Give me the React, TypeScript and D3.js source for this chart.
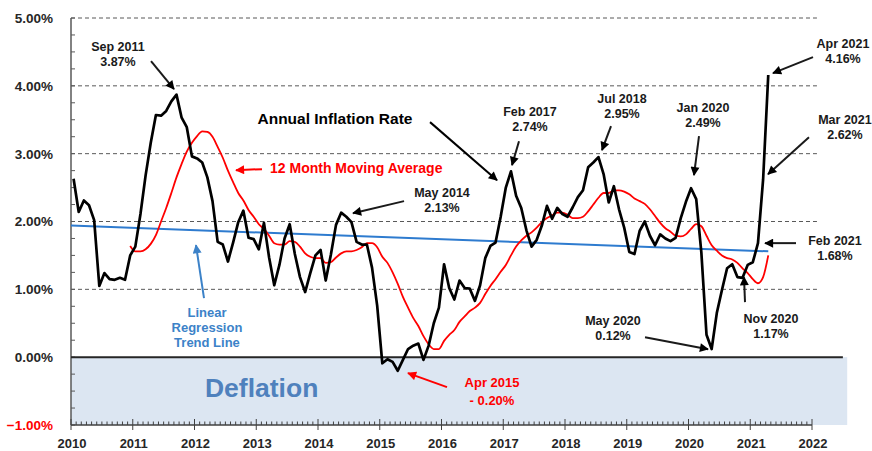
import React, { useEffect, useRef } from "react";
import * as d3 from "d3";

// monthly annual inflation rate, Jan 2010 .. Apr 2021
const rate2010 = [2.63, 2.14, 2.31, 2.24, 2.02, 1.05, 1.24, 1.15, 1.14, 1.17, 1.14, 1.5];
const rate2011 = [1.63, 2.11, 2.68, 3.16, 3.57, 3.56, 3.63, 3.77, 3.87, 3.53, 3.39, 2.96];
const rate2012 = [2.93, 2.87, 2.65, 2.3, 1.7, 1.66, 1.41, 1.69, 1.99, 2.16, 1.76, 1.74];
const rate2013 = [1.59, 1.98, 1.47, 1.06, 1.36, 1.75, 1.96, 1.52, 1.18, 0.96, 1.24, 1.5];
const rate2014 = [1.58, 1.13, 1.51, 1.95, 2.13, 2.07, 1.99, 1.7, 1.66, 1.66, 1.32, 0.76];
const rate2015 = [-0.09, -0.03, -0.07, -0.2, -0.04, 0.12, 0.17, 0.2, -0.04, 0.17, 0.5, 0.73];
const rate2016 = [1.37, 1.02, 0.85, 1.13, 1.02, 1.01, 0.83, 1.06, 1.46, 1.64, 1.69, 2.07];
const rate2017 = [2.5, 2.74, 2.38, 2.2, 1.87, 1.63, 1.73, 1.94, 2.23, 2.04, 2.2, 2.11];
const rate2018 = [2.07, 2.21, 2.36, 2.46, 2.8, 2.87, 2.95, 2.7, 2.28, 2.52, 2.18, 1.91];
const rate2019 = [1.55, 1.52, 1.86, 2.0, 1.79, 1.65, 1.81, 1.75, 1.71, 1.76, 2.05, 2.29];
const rate2020 = [2.49, 2.33, 1.54, 0.33, 0.12, 0.65, 0.99, 1.31, 1.37, 1.18, 1.17, 1.36];
const rate2021 = [1.4, 1.68, 2.62, 4.16];

// 12 month moving average, Dec 2010 .. Apr 2021
const movingAvg = [
  1.64,
  1.56, 1.56, 1.59, 1.67, 1.8, 2.0, 2.2, 2.42, 2.65, 2.85, 3.03, 3.16,
  3.26, 3.33, 3.32, 3.25, 3.1, 2.94, 2.75, 2.58, 2.42, 2.31, 2.17, 2.07,
  1.96, 1.89, 1.79, 1.68, 1.66, 1.66, 1.71, 1.7, 1.63, 1.53, 1.48, 1.46,
  1.46, 1.39, 1.4, 1.47, 1.53, 1.56, 1.56, 1.58, 1.62, 1.68, 1.68, 1.62,
  1.48, 1.39, 1.25, 1.08, 0.89, 0.73, 0.58, 0.46, 0.31, 0.19, 0.12, 0.12,
  0.24, 0.33, 0.4, 0.52, 0.6, 0.68, 0.73, 0.8, 0.93, 1.05, 1.15, 1.26,
  1.36, 1.5, 1.63, 1.72, 1.79, 1.84, 1.91, 1.99, 2.05, 2.09, 2.13, 2.13,
  2.1, 2.05, 2.05, 2.07, 2.15, 2.25, 2.35, 2.42, 2.42, 2.46, 2.46, 2.44,
  2.4, 2.34, 2.3, 2.26, 2.18, 2.08, 1.98, 1.9, 1.85, 1.79, 1.78, 1.81,
  1.89, 1.96, 1.93, 1.79, 1.65, 1.57, 1.5, 1.46, 1.44, 1.39, 1.31, 1.24,
  1.15, 1.09, 1.18, 1.5,
];

// linear regression trend line, first and last month
const trendLine = [1.94, 1.56];

const yTicks = [-1, 0, 1, 2, 3, 4, 5];
const xTicks = [2010, 2011, 2012, 2013, 2014, 2015, 2016, 2017, 2018, 2019, 2020, 2021, 2022];

export default function App() {
  const ref = useRef<SVGSVGElement>(null);

  useEffect(() => {
    const svg = d3.select(ref.current);
    svg.selectAll("*").remove();

    const rates = [
      ...rate2010, ...rate2011, ...rate2012, ...rate2013, ...rate2014, ...rate2015,
      ...rate2016, ...rate2017, ...rate2018, ...rate2019, ...rate2020, ...rate2021,
    ];
    const monthX = (i: number) => 2010 + (i + 0.5) / 12;

    const x = d3.scaleLinear().domain([2010, 2022]).range([71, 812]);
    const y = d3.scaleLinear().domain([-1, 5]).range([425, 18]);
    const font = "'Liberation Sans', Arial, sans-serif";

    // arrowheads
    const defs = svg.append("defs");
    [["blk", "#000"], ["red", "#ff0000"], ["blu", "#3c82c8"]].forEach(([id, c]) => {
      defs
        .append("marker")
        .attr("id", "arr-" + id)
        .attr("viewBox", "0 0 10 10")
        .attr("refX", 9)
        .attr("refY", 5)
        .attr("markerWidth", 11)
        .attr("markerHeight", 9)
        .attr("markerUnits", "userSpaceOnUse")
        .attr("orient", "auto")
        .append("path")
        .attr("d", "M0,0 L10,5 L0,10 z")
        .attr("fill", c);
    });

    // deflation band
    svg
      .append("rect")
      .attr("x", x(2010))
      .attr("y", y(0))
      .attr("width", x(2022.57) - x(2010))
      .attr("height", y(-1) - y(0))
      .attr("fill", "#dce6f2");

    svg
      .append("text")
      .attr("x", x(2012.17))
      .attr("y", y(-0.59))
      .attr("font-family", font)
      .attr("font-weight", "bold")
      .attr("font-size", 26.5)
      .attr("fill", "#4f81bd")
      .text("Deflation");

    // gridlines
    svg
      .append("g")
      .selectAll("line")
      .data(yTicks.filter(d => d > 0))
      .enter()
      .append("line")
      .attr("x1", x(2010))
      .attr("x2", x(2022.08))
      .attr("y1", d => y(d))
      .attr("y2", d => y(d))
      .attr("stroke", "#595959")
      .attr("stroke-width", 1)
      .attr("stroke-dasharray", "4,3");

    // y axis
    const yAxis = svg.append("g").attr("stroke", "#595959");
    yAxis
      .append("line")
      .attr("x1", x(2010))
      .attr("x2", x(2010))
      .attr("y1", y(5))
      .attr("y2", y(-1))
      .attr("stroke-width", 1.5);
    yAxis
      .selectAll("line.minor")
      .data(d3.range(-1, 5.01, 0.25))
      .enter()
      .append("line")
      .attr("class", "minor")
      .attr("x1", x(2010))
      .attr("x2", x(2010) + 4)
      .attr("y1", d => y(d))
      .attr("y2", d => y(d))
      .attr("stroke-width", 1);

    svg
      .append("g")
      .selectAll("text")
      .data(yTicks)
      .enter()
      .append("text")
      .attr("x", 53)
      .attr("y", d => y(d))
      .attr("dy", "0.36em")
      .attr("text-anchor", "end")
      .attr("font-family", font)
      .attr("font-weight", "bold")
      .attr("font-size", 13.5)
      .attr("fill", d => (d < 0 ? "#ff0000" : "#262626"))
      .text(d => d3.format(".2f")(d) + "%");

    // x axis
    const xAxis = svg.append("g").attr("stroke", "#404040");
    xAxis
      .append("line")
      .attr("x1", x(2010))
      .attr("x2", x(2022))
      .attr("y1", y(-1))
      .attr("y2", y(-1))
      .attr("stroke-width", 1.5);
    xAxis
      .selectAll("line.minor")
      .data(d3.range(0, 145))
      .enter()
      .append("line")
      .attr("class", "minor")
      .attr("x1", d => x(2010 + d / 12))
      .attr("x2", d => x(2010 + d / 12))
      .attr("y1", y(-1))
      .attr("y2", d => (d % 12 === 0 ? y(-1) - 6 : y(-1) - 3.5))
      .attr("stroke-width", 1);
    xAxis
      .selectAll("line.major")
      .data(xTicks)
      .enter()
      .append("line")
      .attr("class", "major")
      .attr("x1", d => x(d))
      .attr("x2", d => x(d))
      .attr("y1", y(-1))
      .attr("y2", y(-1) + 5)
      .attr("stroke-width", 1);

    svg
      .append("g")
      .selectAll("text")
      .data(xTicks)
      .enter()
      .append("text")
      .attr("x", d => x(d) + 1)
      .attr("y", 447.5)
      .attr("text-anchor", "middle")
      .attr("font-family", font)
      .attr("font-weight", "bold")
      .attr("font-size", 13)
      .attr("fill", "#262626")
      .text(d => d);

    // zero line
    svg
      .append("line")
      .attr("x1", x(2010))
      .attr("x2", x(2022.5))
      .attr("y1", y(0))
      .attr("y2", y(0))
      .attr("stroke", "#262626")
      .attr("stroke-width", 2);

    // trend line
    svg
      .append("path")
      .datum(trendLine.map((v, i) => [i === 0 ? 2010 : monthX(rates.length - 1), v]))
      .attr("fill", "none")
      .attr("stroke", "#2e7bcf")
      .attr("stroke-width", 2)
      .attr("d", d3.line<number[]>().x(d => x(d[0])).y(d => y(d[1])));

    // moving average
    svg
      .append("path")
      .datum(movingAvg)
      .attr("fill", "none")
      .attr("stroke", "#ff0000")
      .attr("stroke-width", 1.8)
      .attr("stroke-linejoin", "round")
      .attr(
        "d",
        d3
          .line<number>()
          .curve(d3.curveMonotoneX)
          .x((d, i) => x(monthX(i + 11)))
          .y(d => y(d))
      );

    // annual inflation rate
    svg
      .append("path")
      .datum(rates)
      .attr("fill", "none")
      .attr("stroke", "#000")
      .attr("stroke-width", 2.7)
      .attr("stroke-linejoin", "round")
      .attr(
        "d",
        d3
          .line<number>()
          .x((d, i) => x(monthX(i)))
          .y(d => y(d))
      );

    // annotations: text centre (year, %), arrow from -> to (year, %)
    const notes = [
      { lines: ["Sep 2011", "3.87%"], t: [2010.76, 4.585], a: [2011.296, 4.364, 2011.668, 3.951] },
      { lines: ["Feb 2017", "2.74%"], t: [2017.433, 3.627], a: [2017.255, 3.184, 2017.142, 2.831] },
      { lines: ["May 2014", "2.13%"], t: [2016.008, 2.433], a: [2015.393, 2.3, 2014.567, 2.123] },
      { lines: ["Jul 2018", "2.95%"], t: [2018.923, 3.818], a: [2018.745, 3.406, 2018.599, 3.052] },
      { lines: ["Jan 2020", "2.49%"], t: [2020.235, 3.686], a: [2020.17, 3.258, 2020.089, 2.683] },
      { lines: ["Apr 2021", "4.16%"], t: [2022.502, 4.629], a: [2022.016, 4.423, 2021.368, 4.187] },
      { lines: ["Mar 2021", "2.62%"], t: [2022.534, 3.509], a: [2021.951, 3.243, 2021.288, 2.698] },
      { lines: ["Feb 2021", "1.68%"], t: [2022.372, 1.725], a: [2021.741, 1.681, 2021.239, 1.681] },
      { lines: ["May 2020", "0.12%"], t: [2018.777, 0.545], a: [2019.296, 0.295, 2020.316, 0.118] },
      { lines: ["Nov 2020", "1.17%"], t: [2021.336, 0.575], a: [2020.915, 0.811, 2020.899, 1.179] },
    ];

    const drawNote = (
      lines: string[],
      t: number[],
      a: number[] | null,
      color: string,
      marker: string,
      size: number,
      gap: number,
      anchor = "middle"
    ) => {
      const g = svg.append("g");
      lines.forEach((s, i) => {
        g.append("text")
          .attr("x", x(t[0]))
          .attr("y", y(t[1]) + i * gap)
          .attr("dy", "0.36em")
          .attr("text-anchor", anchor)
          .attr("font-family", font)
          .attr("font-weight", "bold")
          .attr("font-size", size)
          .attr("fill", color)
          .text(s);
      });
      if (a) {
        g.append("line")
          .attr("x1", x(a[0]))
          .attr("y1", y(a[1]))
          .attr("x2", x(a[2]))
          .attr("y2", y(a[3]))
          .attr("stroke", color)
          .attr("stroke-width", 2)
          .attr("marker-end", `url(#arr-${marker})`);
      }
    };

    notes.forEach(n => drawNote(n.lines, n.t, n.a, "#1a1a1a", "blk", 12.5, 15.5));

    drawNote(["Annual Inflation Rate"], [2014.275, 3.524], [2015.814, 3.465, 2016.899, 2.609], "#000", "blk", 15.5, 0);
    drawNote(["12 Month Moving Average"], [2013.223, 2.786], [2013.093, 2.772, 2012.672, 2.757], "#ff0000", "red", 14, 0, "start");
    drawNote(["Apr 2015", "- 0.20%"], [2016.818, -0.369], [2016.089, -0.442, 2015.457, -0.236], "#ff0000", "red", 13, 18);
    drawNote(["Linear", "Regression", "Trend Line"], [2012.202, 0.663], [2012.154, 0.87, 2012.024, 1.651], "#3c82c8", "blu", 13, 15);
  }, []);

  return (
    <svg
      ref={ref}
      width={872}
      height={451}
      style={{ position: "absolute", left: 0, top: 0, background: "#fff" }}
    />
  );
}
